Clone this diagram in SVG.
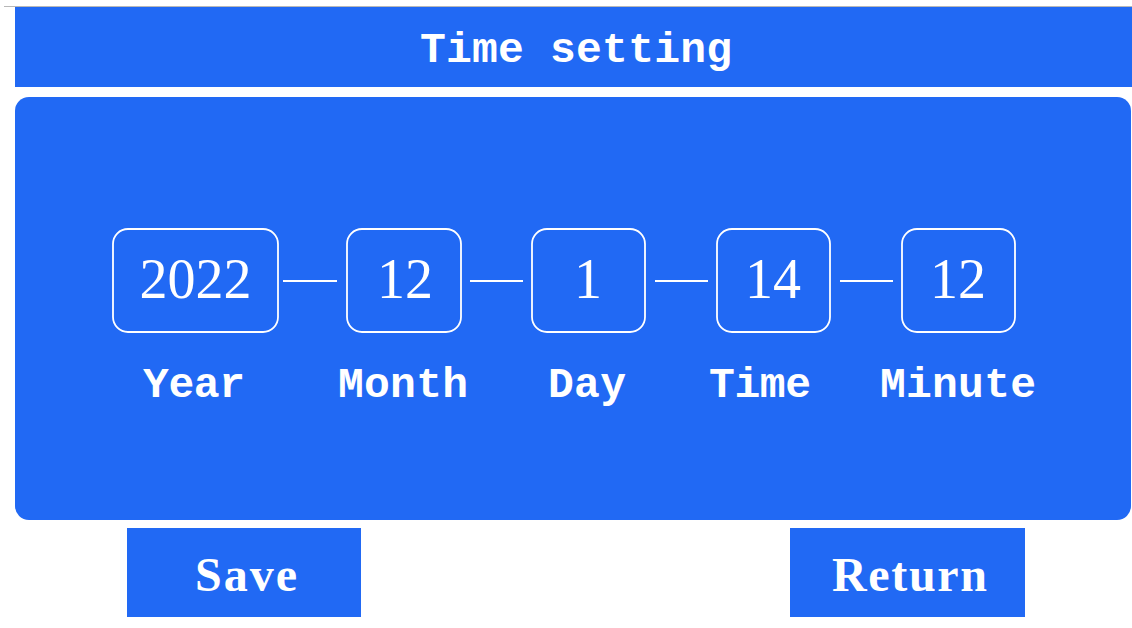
<svg xmlns="http://www.w3.org/2000/svg" width="1132" height="628" viewBox="0 0 1132 628">
<style>
.bg{fill:#2169F4}
.box{fill:none;stroke:#ffffff;stroke-width:1.8}
.num{font-family:"Liberation Serif","Times New Roman",serif;font-size:56px;fill:#ffffff;text-anchor:middle}
.lbl{font-family:"Liberation Mono","Courier New",monospace;font-size:43px;font-weight:bold;fill:#ffffff;text-anchor:middle}
.btn{font-family:"Liberation Serif","Times New Roman",serif;font-size:48px;font-weight:bold;fill:#ffffff;text-anchor:middle}
.link{stroke:#ffffff;stroke-width:1.8}
</style>
<rect x="0" y="0" width="1132" height="628" fill="#ffffff"/>
<line x1="4" y1="6.5" x2="1132" y2="6.5" stroke="#b8b8b8" stroke-width="1"/>
<g id="title-bar">
<rect class="bg" x="15" y="7" width="1117" height="80"/>
<text class="lbl" x="576" y="62" textLength="312">Time setting</text>
</g>
<g id="panel">
<rect class="bg" x="15" y="97" width="1116" height="423" rx="14" ry="14"/>
</g>
<g id="connectors">
<line class="link" x1="283" y1="281" x2="337" y2="281"/>
<line class="link" x1="470" y1="281" x2="523" y2="281"/>
<line class="link" x1="655" y1="281" x2="708" y2="281"/>
<line class="link" x1="840" y1="281" x2="893" y2="281"/>
</g>
<g id="year">
<rect class="box" x="113" y="229" width="165" height="103" rx="15"/>
<text class="num" x="195.5" y="298">2022</text>
<text class="lbl" x="194" y="397" textLength="102">Year</text>
</g>
<g id="month">
<rect class="box" x="347" y="229" width="114" height="103" rx="15"/>
<text class="num" x="405" y="298">12</text>
<text class="lbl" x="403" y="397" textLength="130">Month</text>
</g>
<g id="day">
<rect class="box" x="532" y="229" width="113" height="103" rx="15"/>
<text class="num" x="588" y="298">1</text>
<text class="lbl" x="587" y="397" textLength="78">Day</text>
</g>
<g id="time">
<rect class="box" x="717" y="229" width="113" height="103" rx="15"/>
<text class="num" x="773" y="298">14</text>
<text class="lbl" x="760" y="397" textLength="102">Time</text>
</g>
<g id="minute">
<rect class="box" x="902" y="229" width="113" height="103" rx="15"/>
<text class="num" x="958" y="298">12</text>
<text class="lbl" x="958" y="397" textLength="156">Minute</text>
</g>
<g id="save">
<rect class="bg" x="127" y="528" width="234" height="89"/>
<text class="btn" x="246" y="591" textLength="102">Save</text>
</g>
<g id="return">
<rect class="bg" x="790" y="528" width="235" height="89"/>
<text class="btn" x="909.5" y="591" textLength="155">Return</text>
</g>
</svg>
